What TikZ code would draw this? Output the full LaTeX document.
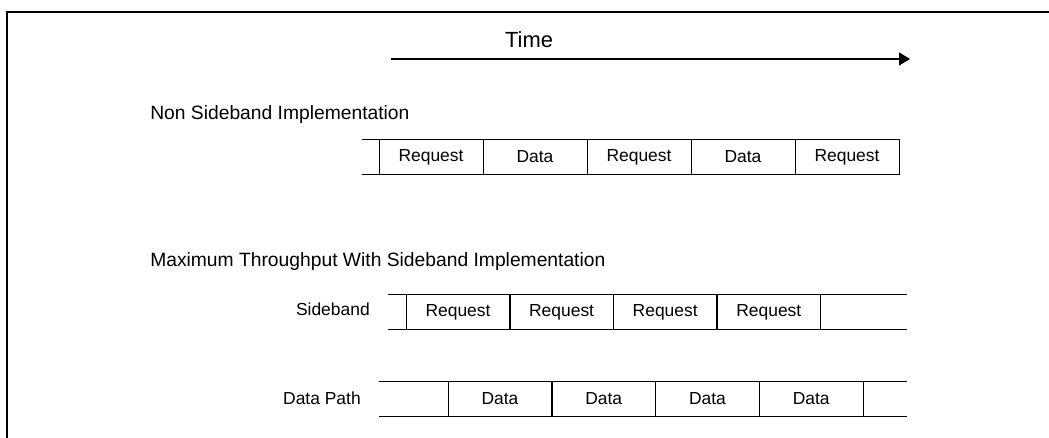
\documentclass[tikz,border=0pt]{standalone}
\usepackage{fontspec}
\setmainfont{Liberation Sans}
\usetikzlibrary{arrows.meta}
\newcommand{\slotWidth}{2.6cm}
\newcommand{\slotHeight}{0.8675cm}
\newcommand{\labelFont}{\fontsize{12.4}{14}\selectfont}
\newcommand{\titleFont}{\fontsize{13.7}{16}\selectfont}
\newcommand{\timeFont}{\fontsize{15.6}{18}\selectfont}

\begin{document}
\begin{tikzpicture}[x=0.025cm, y=-0.025cm,
      slot/.style={draw, line width=0.7pt, minimum width=\slotWidth, minimum height=\slotHeight,
         inner sep=0pt, outer sep=0pt, font=\labelFont},
      lane/.style={line width=0.7pt},
      caption/.style={font=\labelFont, inner sep=0pt},
      heading/.style={font=\titleFont, inner sep=0pt, anchor=base west}]
         \useasboundingbox (0,0) rectangle (1049,438);
         \draw [line width=1.6pt] (1049,12) -- (7,12) -- (7,438);

         \node (time) [font=\timeFont] at (529,40) {Time};
         \coordinate (tstart) at (391,59);
         \coordinate (tend) at (910,59);
         \draw [-{Triangle[length=0.275cm,width=0.325cm]},line width=0.9pt] (tstart) -- (tend);

         \node (nsbtitle) [heading] at (150,120) {Non Sideband Implementation};
         \foreach \lbl [count=\i] in {Request,Data,Request,Data,Request}
         {
            \node (nsb\i) [slot] at (327+\i*104,157) {\lbl};
         }
         \coordinate (nsbstart) at (362,157);
         \draw [lane] (nsbstart |- nsb1.north west) -- (nsb1.north west);
         \draw [lane] (nsbstart |- nsb1.south west) -- (nsb1.south west);

         \node (sbtitle) [heading] at (150,267) {Maximum Throughput With Sideband Implementation};

         \node (sblabel) [caption, anchor=east] at (370,309) {Sideband};
         \foreach \lbl [count=\i] in {Request,Request,Request,Request}
         {
            \node (sb\i) [slot] at (354.4+\i*103.6,312) {\lbl};
         }
         \coordinate (sbstart) at (388,312);
         \coordinate (sbend) at (907,312);
         \draw [lane] (sbstart |- sb1.north west) -- (sb1.north west);
         \draw [lane] (sbstart |- sb1.south west) -- (sb1.south west);
         \draw [lane] (sb4.north east) -- (sbend |- sb4.north east);
         \draw [lane] (sb4.south east) -- (sbend |- sb4.south east);

         \node (dplabel) [caption, anchor=east] at (361,398) {Data Path};
         \foreach \lbl [count=\i] in {Data,Data,Data,Data}
         {
            \node (dp\i) [slot] at (396.25+\i*103.75,399) {\lbl};
         }
         \coordinate (dpstart) at (379,399);
         \coordinate (dpend) at (907,399);
         \draw [lane] (dpstart |- dp1.north west) -- (dp1.north west);
         \draw [lane] (dpstart |- dp1.south west) -- (dp1.south west);
         \draw [lane] (dp4.north east) -- (dpend |- dp4.north east);
         \draw [lane] (dp4.south east) -- (dpend |- dp4.south east);
\end{tikzpicture}
\end{document}
